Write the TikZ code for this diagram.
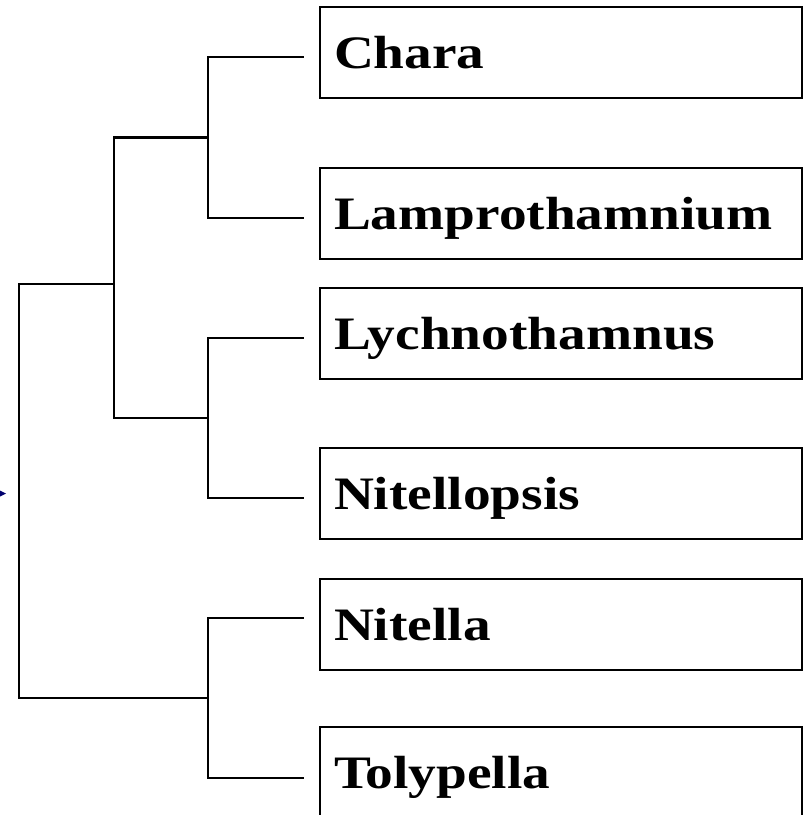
\documentclass[tikz,border=0pt]{standalone}
\usepackage{fontspec}
\setmainfont{Liberation Serif}
\definecolor{arrownavy}{RGB}{0,0,110}
\tikzset{
  taxbox/.style={draw=black, line width=2pt, rectangle, anchor=north west,
    minimum width=482pt, minimum height=91pt, text width=454pt,
    inner xsep=14pt, inner ysep=0pt, text height=38pt, text depth=7pt,
    align=left, font=\fontsize{46.5}{50}\selectfont\bfseries},
  branch/.style={draw=black, line width=2.8pt, line join=miter, line cap=rect}
}
\newcommand{\wide}[1]{\scalebox{1.19}[1]{#1}}
\begin{document}
\begin{tikzpicture}[x=1pt,y=1pt]
\clip (0,0) rectangle (804,-815);
\fill[white] (0,0) rectangle (804,-815);
% boxes
\node[taxbox] (b1) at (319,-6)   {\wide{Chara}};
\node[taxbox] (b2) at (319,-167) {\wide{Lamprothamnium}};
\node[taxbox] (b3) at (319,-287) {\wide{Lychnothamnus}};
\node[taxbox] (b4) at (319,-447) {\wide{Nitellopsis}};
\node[taxbox] (b5) at (319,-578) {\wide{Nitella}};
\node[taxbox] (b6) at (319,-726) {\wide{Tolypella}};
% leaf ends
\coordinate (l1) at (303,-57);
\coordinate (l2) at (303,-218);
\coordinate (l3) at (303,-338);
\coordinate (l4) at (303,-498);
\coordinate (l5) at (303,-618);
\coordinate (l6) at (303,-778);
% internal nodes
\coordinate (B) at (208,-137.5);
\coordinate (C) at (208,-418);
\coordinate (D) at (208,-698);
\coordinate (A) at (114,-284);
\coordinate (R) at (19,-491);
\draw[branch] (l1) -| (B) |- (l2);
\draw[branch] (l3) -| (C) |- (l4);
\draw[branch] (l5) -| (D) |- (l6);
\draw[branch] (B) -| (A) |- (C);
\draw[branch] (A) -| (R) |- (D);
% partial arrow tip at left edge
\fill[arrownavy] (-4,-488.5) -- (6,-493.5) -- (-4,-498.5) -- cycle;
\end{tikzpicture}
\end{document}
